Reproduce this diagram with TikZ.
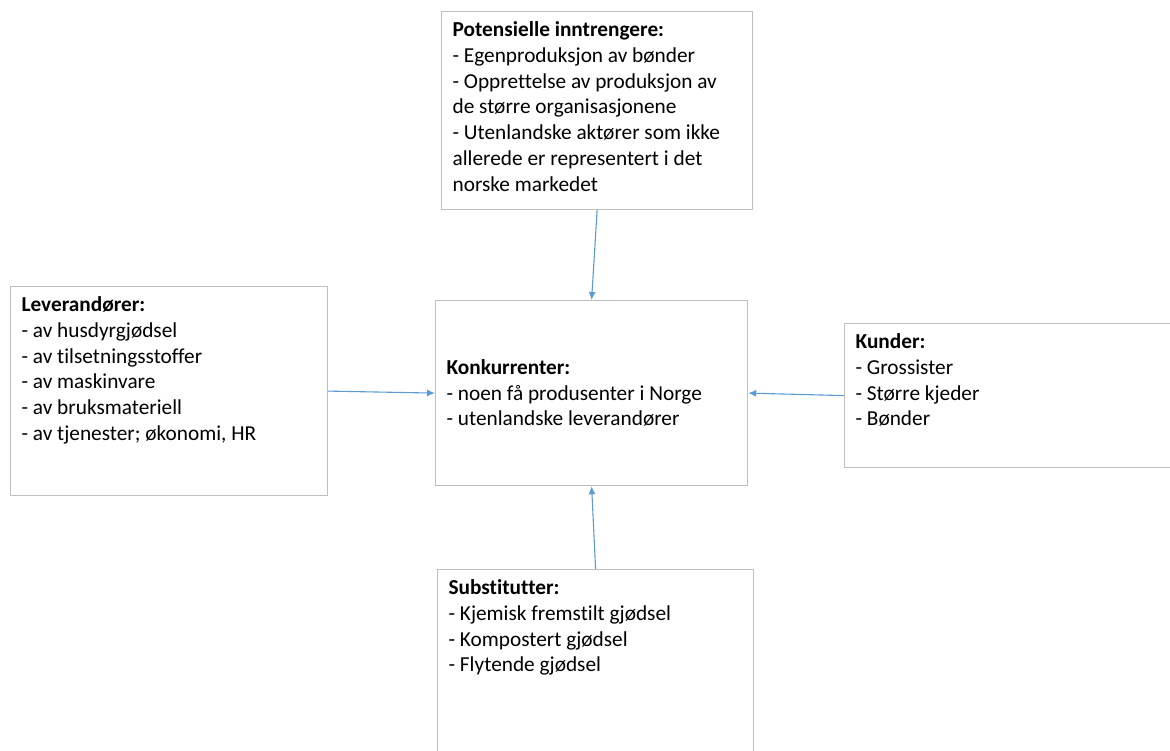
\documentclass[tikz,border=0pt]{standalone}
\usepackage{fontspec}
\setmainfont{Carlito}[Ligatures=NoCommon]
\usepackage{xcolor}
\usetikzlibrary{arrows.meta, positioning}

\definecolor{kantgraa}{HTML}{BFBFBF}
\definecolor{pilblaa}{HTML}{5B9BD5}

% tekst i boksen med fast bredde og hoeyde (t = oeverst, c = midt)
\newcommand{\bokstekst}[4][t]{\begin{minipage}[t][#3][#1]{#2}#4\end{minipage}}

\tikzset{
    boks/.style={draw=kantgraa, line width=1.2pt, anchor=north west,
        inner xsep=11pt, inner ysep=10pt, font=\fontsize{21.3}{25.8}\selectfont},
    pil/.style={draw=pilblaa, line width=1.1pt, -{Latex[length=8pt, width=7pt]}}
}

\begin{document}
\begin{tikzpicture}[x=1pt, y=-1pt]
    \useasboundingbox (0,0) rectangle (1170,751);
    \clip (0,0) rectangle (1170,751);

    % Boksene
    \node[boks] (inntrengere) at (441,11) {\bokstekst{289pt}{178pt}{%
        \textbf{Potensielle inntrengere:}\\
        - Egenproduksjon av bønder\\
        - Opprettelse av produksjon av\\
        de større organisasjonene\\
        - Utenlandske aktører som ikke\\
        allerede er representert i det\\
        norske markedet}};

    \node[boks] (leverandorer) at (10,286) {\bokstekst{295pt}{189pt}{%
        \textbf{Leverandører:}\\
        - av husdyrgjødsel\\
        - av tilsetningsstoffer\\
        - av maskinvare\\
        - av bruksmateriell\\
        - av tjenester; økonomi, HR}};

    \node[boks] (konkurrenter) at (435,300) {\bokstekst[c]{290pt}{165pt}{%
        \textbf{Konkurrenter:}\\
        - noen få produsenter i Norge\\
        - utenlandske leverandører}};

    \node[boks] (kunder) at (844,323) {\bokstekst{318pt}{124pt}{%
        \textbf{Kunder:}\\
        - Grossister\\
        - Større kjeder\\
        - Bønder}};

    \node[boks] (substitutter) at (437,569) {\bokstekst{294pt}{180pt}{%
        \textbf{Substitutter:}\\
        - Kjemisk fremstilt gjødsel\\
        - Kompostert gjødsel\\
        - Flytende gjødsel}};

    % Pilene inn mot midten
    \draw[pil] (inntrengere.south) -- (konkurrenter.north);
    \draw[pil] (leverandorer.east) -- (konkurrenter.west);
    \draw[pil] (kunder.west) -- (konkurrenter.east);
    \draw[pil] (substitutter.north) -- (konkurrenter.south);
\end{tikzpicture}
\end{document}
